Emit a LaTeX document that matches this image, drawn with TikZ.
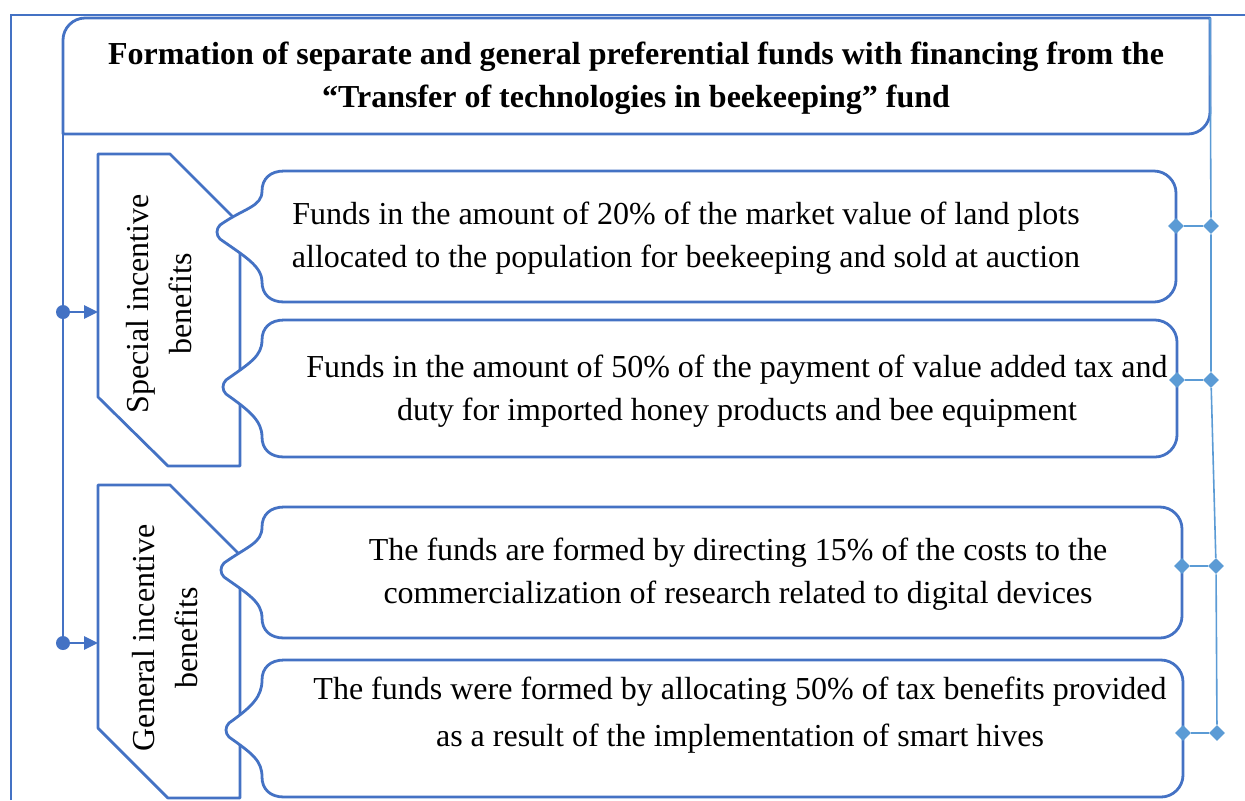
\documentclass[tikz,border=0pt]{standalone}
\usepackage{fontspec}
\setmainfont{Liberation Serif}
\usetikzlibrary{arrows.meta,shapes.geometric}

\definecolor{frameblue}{HTML}{4472C4}
\definecolor{linkblue}{HTML}{5B9BD5}

\tikzset{
  shape line/.style={draw=frameblue,line width=1.4pt,fill=white,line join=round},
  frame line/.style={draw=frameblue,line width=1pt},
  trunk line/.style={draw=frameblue,line width=1.4pt},
  fund text/.style={align=center,font=\fontsize{16}{21.5}\selectfont},
  title text/.style={align=center,font=\bfseries\fontsize{16}{21.5}\selectfont},
  link/.style={draw=linkblue,line width=0.8pt},
  joint/.style={diamond,fill=linkblue,inner sep=0pt,minimum size=8pt},
  dot/.style={circle,fill=frameblue,inner sep=0pt,minimum size=7pt}
}

% rounded box with a notch pointing left: left, top, right, bottom, tip x, tip y
\newcommand{\fundbox}[6]{%
  \draw[shape line] ({#1+22},#2) -- ({#3-22},#2) .. controls ({#3-10},#2) and (#3,{#2+10}) .. (#3,{#2+22})
    -- (#3,{#4-22}) .. controls (#3,{#4-10}) and ({#3-10},#4) .. ({#3-22},#4) -- ({#1+22},#4)
    .. controls ({#1+8},#4) and (#1,{#4-8}) .. (#1,{#4-20})
    .. controls (#1,{#4-36}) and ({#5+28},{#6+24}) .. ({#5+4},{#6+7})
    .. controls (#5,{#6+3}) and (#5,{#6-3}) .. ({#5+4},{#6-7})
    .. controls ({#5+28},{#6-24}) and (#1,{#2+36}) .. (#1,{#2+20})
    .. controls (#1,{#2+8}) and ({#1+8},#2) .. ({#1+22},#2) -- cycle;
}

\begin{document}
\begin{tikzpicture}[x=0.5pt,y=-0.5pt]
\useasboundingbox (0,0) rectangle (1245,800);

% outer frame
  \draw[frame line] (11,800) -- (11,15) -- (1245,15);

% title box
  \draw[shape line] (63,134) -- (63,40) .. controls (63,28) and (73,18) .. (85,18) -- (1210,18)
    -- (1210,112) .. controls (1210,124) and (1200,134) .. (1188,134) -- cycle;
  \node[title text] (title) at (636,78) {Formation of separate and general preferential funds with financing from the\\``Transfer of technologies in beekeeping'' fund};
  \coordinate (tb) at (63,134);

% benefit groups
  \draw[shape line] (98,154) -- (170,154) -- (240,224) -- (240,466) -- (168,466) -- (98,397) -- cycle;
  \draw[shape line] (98,485) -- (170,485) -- (240,555) -- (240,798) -- (168,798) -- (98,728) -- cycle;
  \node[fund text,rotate=90] (special) at (159,304) {Special incentive\\benefits};
  \node[fund text,rotate=90] (general) at (165,638) {General incentive\\benefits};

% funds
  \fundbox{262}{171}{1176}{302}{216}{232}
  \fundbox{262}{320}{1177}{457}{222}{387}
  \fundbox{262}{507}{1182}{638}{220}{570}
  \fundbox{262}{660}{1183}{797}{225}{730}
  \node[fund text] (f1) at (686,238) {Funds in the amount of 20\% of the market value of land plots\\allocated to the population for beekeeping and sold at auction};
  \node[fund text] (f2) at (737,391) {Funds in the amount of 50\% of the payment of value added tax and\\duty for imported honey products and bee equipment};
  \node[fund text] (f3) at (738,574) {The funds are formed by directing 15\% of the costs to the\\commercialization of research related to digital devices};
  \node[fund text,font=\fontsize{16}{23.5}\selectfont] (f4) at (740,715) {The funds were formed by allocating 50\% of tax benefits provided\\as a result of the implementation of smart hives};

% left trunk with arrows to the groups
  \node[dot] (j1) at (63,312) {};
  \node[dot] (j2) at (63,643) {};
  \coordinate (s1) at (98,312);
  \coordinate (s2) at (98,643);
  \draw[trunk line] (tb) -- (j1) -- (j2);
  \draw[trunk line,-{Triangle[length=7pt,width=6.5pt]}] (j1) -- (s1);
  \draw[trunk line,-{Triangle[length=7pt,width=6.5pt]}] (j2) -- (s2);

% right links
  \coordinate (rtop) at (1210,18);
  \node[joint] (e1) at (1176,226) {};
  \node[joint] (e2) at (1177,380) {};
  \node[joint] (e3) at (1182,566) {};
  \node[joint] (e4) at (1183,733) {};
  \node[joint] (r1) at (1211,226) {};
  \node[joint] (r2) at (1211,380) {};
  \node[joint] (r3) at (1216,566) {};
  \node[joint] (r4) at (1217,733) {};
  \draw[link] (rtop) -- (r1) -- (r2) -- (r3) -- (r4);
  \foreach \i in {1,...,4}
    \draw[link] (e\i) -- (r\i);

\end{tikzpicture}
\end{document}
